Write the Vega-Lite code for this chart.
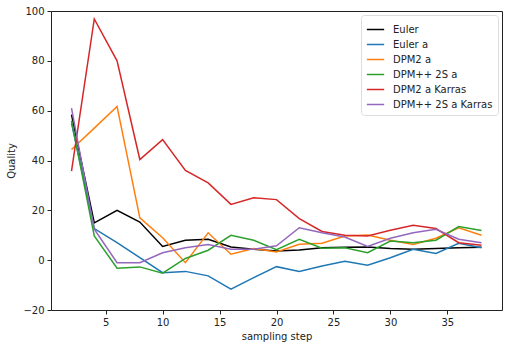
{
  "$schema": "https://vega.github.io/schema/vega-lite/v6.json",
  "width": 451,
  "height": 299,
  "autosize": {"type": "none"},
  "padding": {"left": 51, "top": 11, "right": 8, "bottom": 42},
  "background": "white",
  "config": {
    "font": "DejaVu Sans",
    "view": {"stroke": "#222222", "strokeWidth": 1},
    "axis": {"grid": false, "domain": false, "tickColor": "#222222", "tickSize": 4, "labelFontSize": 10, "labelColor": "#222222", "titleFontSize": 10, "titleFontWeight": "normal", "titleColor": "#222222", "labelPadding": 3}
  },
  "data": {"values": [
    {"s":"Euler","x":2,"y":58.4},{"s":"Euler","x":4,"y":15},{"s":"Euler","x":6,"y":20},{"s":"Euler","x":8,"y":15.3},{"s":"Euler","x":10,"y":5.5},{"s":"Euler","x":12,"y":8},{"s":"Euler","x":14,"y":8.4},{"s":"Euler","x":16,"y":5.3},{"s":"Euler","x":18,"y":4.4},{"s":"Euler","x":20,"y":3.7},{"s":"Euler","x":22,"y":4.1},{"s":"Euler","x":24,"y":5},{"s":"Euler","x":26,"y":5.2},{"s":"Euler","x":28,"y":5.3},{"s":"Euler","x":30,"y":4.7},{"s":"Euler","x":32,"y":4.4},{"s":"Euler","x":34,"y":4.7},{"s":"Euler","x":36,"y":5},{"s":"Euler","x":38,"y":5.2},
    {"s":"Euler a","x":2,"y":55},{"s":"Euler a","x":4,"y":12.7},{"s":"Euler a","x":6,"y":7},{"s":"Euler a","x":8,"y":1},{"s":"Euler a","x":10,"y":-5},{"s":"Euler a","x":12,"y":-4.5},{"s":"Euler a","x":14,"y":-6.3},{"s":"Euler a","x":16,"y":-11.6},{"s":"Euler a","x":18,"y":-7},{"s":"Euler a","x":20,"y":-2.6},{"s":"Euler a","x":22,"y":-4.5},{"s":"Euler a","x":24,"y":-2.3},{"s":"Euler a","x":26,"y":-0.4},{"s":"Euler a","x":28,"y":-2},{"s":"Euler a","x":30,"y":1},{"s":"Euler a","x":32,"y":4.4},{"s":"Euler a","x":34,"y":2.7},{"s":"Euler a","x":36,"y":6.8},{"s":"Euler a","x":38,"y":5},
    {"s":"DPM2 a","x":2,"y":44.4},{"s":"DPM2 a","x":4,"y":53},{"s":"DPM2 a","x":6,"y":61.7},{"s":"DPM2 a","x":8,"y":17},{"s":"DPM2 a","x":10,"y":9},{"s":"DPM2 a","x":12,"y":-1},{"s":"DPM2 a","x":14,"y":11},{"s":"DPM2 a","x":16,"y":2.4},{"s":"DPM2 a","x":18,"y":4.7},{"s":"DPM2 a","x":20,"y":3.3},{"s":"DPM2 a","x":22,"y":6.4},{"s":"DPM2 a","x":24,"y":6.8},{"s":"DPM2 a","x":26,"y":9.7},{"s":"DPM2 a","x":28,"y":10.1},{"s":"DPM2 a","x":30,"y":8},{"s":"DPM2 a","x":32,"y":6.3},{"s":"DPM2 a","x":34,"y":8.8},{"s":"DPM2 a","x":36,"y":13},{"s":"DPM2 a","x":38,"y":10},
    {"s":"DPM++ 2S a","x":2,"y":56},{"s":"DPM++ 2S a","x":4,"y":9.7},{"s":"DPM++ 2S a","x":6,"y":-3.2},{"s":"DPM++ 2S a","x":8,"y":-2.7},{"s":"DPM++ 2S a","x":10,"y":-5.2},{"s":"DPM++ 2S a","x":12,"y":0.7},{"s":"DPM++ 2S a","x":14,"y":4},{"s":"DPM++ 2S a","x":16,"y":10},{"s":"DPM++ 2S a","x":18,"y":8},{"s":"DPM++ 2S a","x":20,"y":4.2},{"s":"DPM++ 2S a","x":22,"y":8.4},{"s":"DPM++ 2S a","x":24,"y":4.8},{"s":"DPM++ 2S a","x":26,"y":5},{"s":"DPM++ 2S a","x":28,"y":3},{"s":"DPM++ 2S a","x":30,"y":7.7},{"s":"DPM++ 2S a","x":32,"y":7},{"s":"DPM++ 2S a","x":34,"y":8},{"s":"DPM++ 2S a","x":36,"y":13.5},{"s":"DPM++ 2S a","x":38,"y":11.9},
    {"s":"DPM2 a Karras","x":2,"y":35.7},{"s":"DPM2 a Karras","x":4,"y":96.8},{"s":"DPM2 a Karras","x":6,"y":80},{"s":"DPM2 a Karras","x":8,"y":40.4},{"s":"DPM2 a Karras","x":10,"y":48.4},{"s":"DPM2 a Karras","x":12,"y":36},{"s":"DPM2 a Karras","x":14,"y":31},{"s":"DPM2 a Karras","x":16,"y":22.4},{"s":"DPM2 a Karras","x":18,"y":25},{"s":"DPM2 a Karras","x":20,"y":24.3},{"s":"DPM2 a Karras","x":22,"y":16.7},{"s":"DPM2 a Karras","x":24,"y":11.5},{"s":"DPM2 a Karras","x":26,"y":10},{"s":"DPM2 a Karras","x":28,"y":9.7},{"s":"DPM2 a Karras","x":30,"y":12},{"s":"DPM2 a Karras","x":32,"y":14},{"s":"DPM2 a Karras","x":34,"y":12.7},{"s":"DPM2 a Karras","x":36,"y":7},{"s":"DPM2 a Karras","x":38,"y":6},
    {"s":"DPM++ 2S a Karras","x":2,"y":61},{"s":"DPM++ 2S a Karras","x":4,"y":12.4},{"s":"DPM++ 2S a Karras","x":6,"y":-1},{"s":"DPM++ 2S a Karras","x":8,"y":-1},{"s":"DPM++ 2S a Karras","x":10,"y":3},{"s":"DPM++ 2S a Karras","x":12,"y":5},{"s":"DPM++ 2S a Karras","x":14,"y":6.3},{"s":"DPM++ 2S a Karras","x":16,"y":4.4},{"s":"DPM++ 2S a Karras","x":18,"y":4.4},{"s":"DPM++ 2S a Karras","x":20,"y":5.8},{"s":"DPM++ 2S a Karras","x":22,"y":13},{"s":"DPM++ 2S a Karras","x":24,"y":11},{"s":"DPM++ 2S a Karras","x":26,"y":9.3},{"s":"DPM++ 2S a Karras","x":28,"y":5.5},{"s":"DPM++ 2S a Karras","x":30,"y":8.8},{"s":"DPM++ 2S a Karras","x":32,"y":11},{"s":"DPM++ 2S a Karras","x":34,"y":12.4},{"s":"DPM++ 2S a Karras","x":36,"y":8.4},{"s":"DPM++ 2S a Karras","x":38,"y":7}
  ]},
  "mark": {"type": "line", "strokeWidth": 1.5},
  "encoding": {
    "x": {"field": "x", "type": "quantitative", "scale": {"domain": [0.2, 39.8], "nice": false, "zero": false}, "axis": {"values": [5,10,15,20,25,30,35], "title": "sampling step", "titlePadding": 4}},
    "y": {"field": "y", "type": "quantitative", "scale": {"domain": [-20, 100], "nice": false}, "axis": {"values": [-20,0,20,40,60,80,100], "title": "Quality", "titlePadding": 6}},
    "color": {"field": "s", "type": "nominal", "sort": null,
      "scale": {"domain": ["Euler","Euler a","DPM2 a","DPM++ 2S a","DPM2 a Karras","DPM++ 2S a Karras"], "range": ["#000000","#1f77b4","#ff7f0e","#2ca02c","#d62728","#9467bd"]},
      "legend": {"title": null, "orient": "top-right", "offset": 4, "padding": 5, "strokeColor": "#dddddd", "fillColor": "white", "cornerRadius": 3, "labelFontSize": 10, "labelColor": "#222222", "symbolType": "stroke", "symbolSize": 300, "symbolStrokeWidth": 1.5, "rowPadding": 0, "labelOffset": 8}}
  }
}
